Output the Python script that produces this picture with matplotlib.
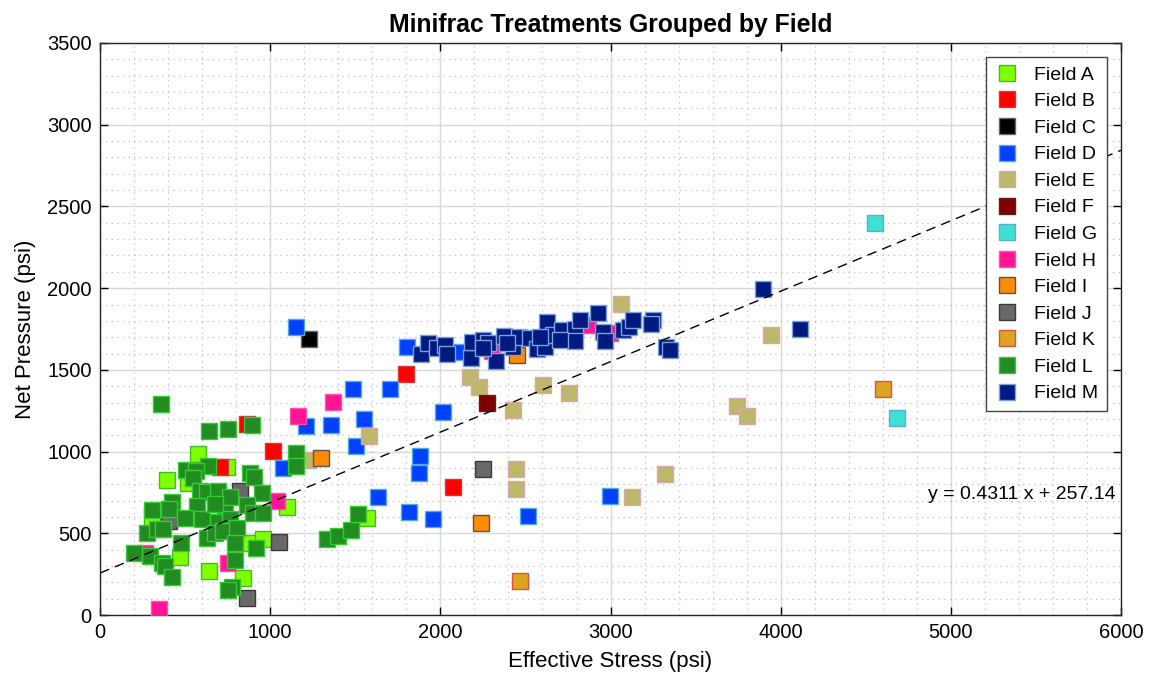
import numpy as np
import matplotlib.pyplot as plt
from matplotlib.ticker import MultipleLocator

plt.rcParams["font.family"] = ["Liberation Sans", "DejaVu Sans"]

# Effective stress (psi) / net pressure (psi) for each field
field_a_x = [574, 744, 515, 395, 1097, 307, 470, 642, 842, 881, 956, 1567]
field_a_y = [983, 904, 806, 826, 659, 601, 357, 269, 224, 442, 463, 592]

field_b_x = [862, 705, 1018, 1796, 2076]
field_b_y = [1167, 904, 1006, 1473, 781]

field_c_x = [1228]
field_c_y = [1687]

field_d_x = [1150, 1209, 1357, 1488, 1551, 1504, 1073, 1704, 1802, 2111, 2017,
             1880, 1873, 1635, 1818, 1955, 2517, 2997]
field_d_y = [1761, 1158, 1163, 1381, 1197, 1036, 897, 1381, 1643, 1611, 1242,
             973, 871, 720, 628, 589, 606, 730]

field_e_x = [1224, 1583, 2174, 2227, 2429, 2603, 2758, 3061, 2443, 2443, 3943,
             3745, 3803, 3320, 3124]
field_e_y = [948, 1095, 1458, 1393, 1254, 1407, 1360, 1903, 895, 771, 1715,
             1281, 1219, 863, 724]

field_f_x = [2272]
field_f_y = [1299]

field_g_x = [4554, 4681]
field_g_y = [2400, 1207]

field_h_x = [1038, 264, 754, 349, 1165, 1371, 2869, 2997, 2301]
field_h_y = [700, 377, 320, 37, 1220, 1301, 1775, 1728, 1613]

field_i_x = [1299, 2239, 2448]
field_i_y = [963, 565, 1591]

field_j_x = [823, 407, 1054, 862, 2252]
field_j_y = [759, 577, 449, 102, 892]

field_k_x = [2468, 4603]
field_k_y = [210, 1385]

field_l_x = [358, 642, 754, 895, 1152, 1152, 633, 505, 564, 548, 881, 905, 588,
             630, 695, 764, 950, 421, 405, 307, 572, 597, 499, 734, 695, 764,
             862, 897, 956, 274, 333, 372, 476, 627, 676, 725, 803, 793, 917,
             200, 294, 362, 382, 421, 793, 774, 754, 1332, 1397, 1472, 1518, 676]
field_l_y = [1291, 1128, 1136, 1163, 993, 912, 914, 887, 883, 836, 867, 846, 759,
             751, 761, 724, 748, 694, 649, 642, 667, 586, 592, 622, 571, 586,
             673, 622, 626, 500, 524, 526, 442, 469, 500, 516, 531, 442, 408,
             381, 361, 316, 300, 235, 337, 169, 153, 467, 483, 523, 618, 679]

field_m_x = [1884, 1929, 1978, 2027, 2041, 2178, 2184, 2252, 2282, 2327, 2374,
             2425, 2464, 2527, 2566, 2615, 2625, 2664, 2713, 2791, 2791, 2820,
             2928, 2958, 2967, 3075, 3110, 3129, 3251, 3240, 3326, 3349, 3898,
             4113, 2252, 2393, 2585, 2703]
field_m_y = [1597, 1662, 1633, 1652, 1597, 1571, 1672, 1683, 1667, 1556, 1707,
             1642, 1703, 1693, 1628, 1642, 1791, 1713, 1744, 1748, 1678, 1805,
             1850, 1734, 1678, 1742, 1764, 1805, 1805, 1780, 1638, 1622, 1993,
             1748, 1631, 1663, 1703, 1683]

field_names = ["Field A", "Field B", "Field C", "Field D", "Field E", "Field F",
               "Field G", "Field H", "Field I", "Field J", "Field K", "Field L",
               "Field M"]

# linear fit shown on the chart
fit_slope = 0.4311
fit_intercept = 257.14

fields = [
    (field_a_x, field_a_y, "#80ff00", "#3fbf1f"),
    (field_b_x, field_b_y, "#ff0000", "#c83c3c"),
    (field_c_x, field_c_y, "#000000", "#666666"),
    (field_d_x, field_d_y, "#0040ff", "#55aadd"),
    (field_e_x, field_e_y, "#bdb76b", "#d9a8a8"),
    (field_f_x, field_f_y, "#800000", "#5a2020"),
    (field_g_x, field_g_y, "#40e0d0", "#55aee0"),
    (field_h_x, field_h_y, "#ff1493", "#ff50b0"),
    (field_i_x, field_i_y, "#ff8c00", "#555555"),
    (field_j_x, field_j_y, "#696969", "#3a3a3a"),
    (field_k_x, field_k_y, "#daa520", "#e0503a"),
    (field_l_x, field_l_y, "#228b22", "#32cd32"),
    (field_m_x, field_m_y, "#001a80", "#7aa0dd"),
]

fig = plt.figure(figsize=(11.51, 6.88), dpi=100)
ax = fig.add_axes([0.0869, 0.106, 0.8871, 0.8315])

for (xs, ys, face, edge), name in zip(fields, field_names):
    ax.plot(xs, ys, "s", ms=11.8, mfc=face, mec=edge, mew=1.0,
            label=name, zorder=3)

xfit = np.array([0, 6000])
ax.plot(xfit, fit_slope * xfit + fit_intercept, "--", color="black",
        lw=1.0, dashes=(7, 4.5), zorder=4)
ax.text(4865, 740, f"y = {fit_slope} x + {fit_intercept}", fontsize=14,
        va="center", ha="left")

ax.set_xlim(0, 6000)
ax.set_ylim(0, 3500)
ax.xaxis.set_major_locator(MultipleLocator(1000))
ax.yaxis.set_major_locator(MultipleLocator(500))
ax.xaxis.set_minor_locator(MultipleLocator(200))
ax.yaxis.set_minor_locator(MultipleLocator(100))
ax.grid(which="major", color="#d9d9d9", lw=1.0, ls="-", zorder=0)
ax.grid(which="minor", color="#c0c0c0", lw=0.9, ls=(0, (1, 3.5)), zorder=0)
ax.set_axisbelow(True)
ax.tick_params(which="major", direction="in", length=6, width=1,
               top=True, right=True, labelsize=14.5, pad=6)
ax.tick_params(which="minor", length=0)
for sp in ax.spines.values():
    sp.set_color("#262626")
    sp.set_linewidth(1.0)

ax.set_xlabel("Effective Stress (psi)", fontsize=16, labelpad=6)
ax.set_ylabel("Net Pressure (psi)", fontsize=16, labelpad=8)
ax.set_title("Minifrac Treatments Grouped by Field", fontsize=17.8,
             fontweight="bold", pad=8)

leg = ax.legend(loc="upper right", fontsize=14, fancybox=False,
                framealpha=1, edgecolor="#444444", borderpad=0.45,
                labelspacing=0.46, handletextpad=0.8, markerscale=0.95,
                handlelength=1.2, borderaxespad=0.0,
                bbox_to_anchor=(0.986, 0.975))
leg.get_frame().set_linewidth(1.0)

fig.savefig("out.png", dpi=100)
